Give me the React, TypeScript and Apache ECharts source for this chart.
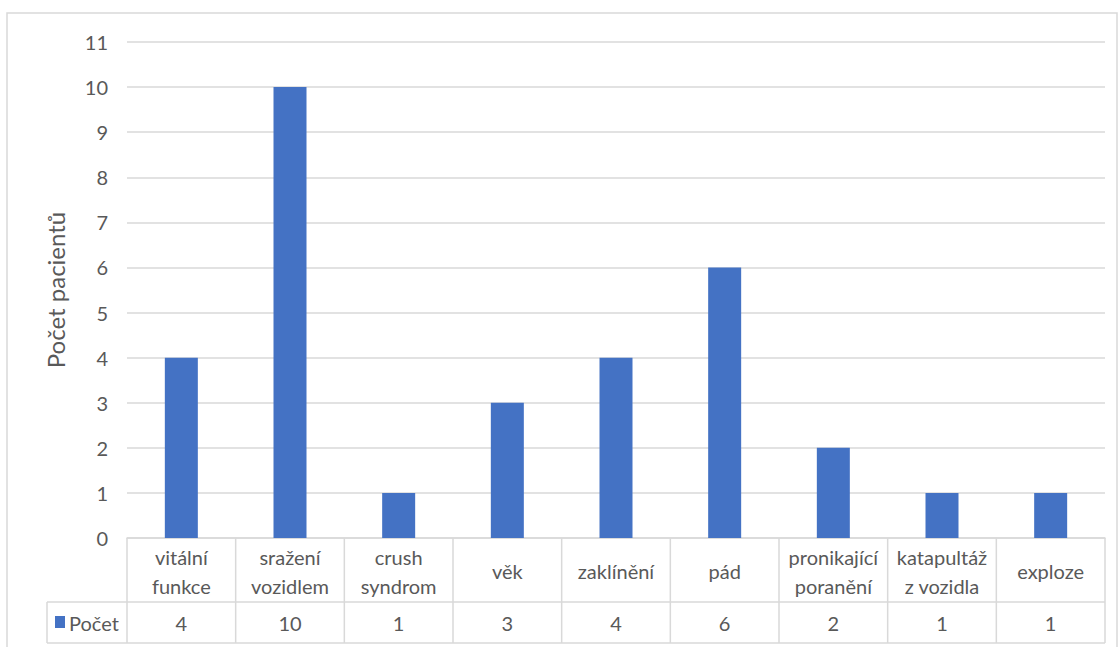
import React, { useEffect, useRef } from "react";
import * as echarts from "echarts";

// Categories (line breaks as shown in the table cells) and patient counts
const categories = [
  "vitální\nfunkce",
  "sražení\nvozidlem",
  "crush\nsyndrom",
  "věk",
  "zaklínění",
  "pád",
  "pronikající\nporanění",
  "katapultáž\nz vozidla",
  "exploze",
];
const counts = [4, 10, 1, 3, 4, 6, 2, 1, 1];
const seriesName = "Počet";
const yAxisTitle = "Počet pacientů";

const W = 1120;
const H = 647;
const GRID_LEFT = 127;
const GRID_RIGHT = 1105;
const GRID_TOP = 42;
const GRID_BOTTOM = 538;
const ROW1_BOTTOM = 602;
const ROW2_BOTTOM = 643;
const LEGEND_LEFT = 47;

const FONT = "Lato, 'Noto Sans', sans-serif";
const TEXT = "#595959";
const LINE = "#d9d9d9";
const BAR = "#4472C4";

export default function App() {
  const ref = useRef<HTMLDivElement>(null);

  useEffect(() => {
    if (!ref.current) return;
    const chart = echarts.init(ref.current, undefined, { renderer: "svg" });

    const colW = (GRID_RIGHT - GRID_LEFT) / categories.length;
    const tableLines: any[] = [];
    const hLine = (x1: number, x2: number, y: number) =>
      tableLines.push({
        type: "line",
        shape: { x1, y1: y, x2, y2: y },
        style: { stroke: LINE, lineWidth: 1.5 },
        silent: true,
      });
    const vLine = (x: number, y1: number, y2: number) =>
      tableLines.push({
        type: "line",
        shape: { x1: x, y1, x2: x, y2 },
        style: { stroke: LINE, lineWidth: 1.5 },
        silent: true,
      });
    hLine(LEGEND_LEFT, GRID_RIGHT, ROW1_BOTTOM);
    hLine(LEGEND_LEFT, GRID_RIGHT, ROW2_BOTTOM);
    for (let i = 0; i <= categories.length; i++) {
      vLine(GRID_LEFT + i * colW, GRID_BOTTOM, ROW2_BOTTOM);
    }
    vLine(LEGEND_LEFT, ROW1_BOTTOM, ROW2_BOTTOM);

    chart.setOption({
      animation: false,
      backgroundColor: "#ffffff",
      grid: {
        left: GRID_LEFT,
        right: W - GRID_RIGHT,
        top: GRID_TOP,
        bottom: H - GRID_BOTTOM,
        containLabel: false,
      },
      xAxis: [
        {
          type: "category",
          data: categories,
          position: "bottom",
          axisLine: { show: true, lineStyle: { color: LINE, width: 1.5 } },
          axisTick: { show: false },
          axisLabel: {
            interval: 0,
            margin: 33,
            color: TEXT,
            fontFamily: FONT,
            fontSize: 20,
            lineHeight: 29,
            verticalAlign: "middle",
            align: "center",
          },
        },
        {
          type: "category",
          data: categories,
          position: "bottom",
          axisLine: { show: false },
          axisTick: { show: false },
          axisLabel: {
            interval: 0,
            margin: 85,
            color: TEXT,
            fontFamily: FONT,
            fontSize: 20,
            verticalAlign: "middle",
            formatter: (_v: string, i: number) => String(counts[i]),
          },
        },
      ],
      yAxis: {
        type: "value",
        min: 0,
        max: 11,
        interval: 1,
        name: yAxisTitle,
        nameLocation: "middle",
        nameGap: 60,
        nameRotate: 90,
        nameTextStyle: {
          color: TEXT,
          fontFamily: FONT,
          fontSize: 24,
        },
        axisLine: { show: false },
        axisTick: { show: false },
        axisLabel: {
          margin: 19,
          color: TEXT,
          fontFamily: FONT,
          fontSize: 20,
        },
        splitLine: { lineStyle: { color: LINE, width: 1.5 } },
      },
      series: [
        {
          name: seriesName,
          type: "bar",
          data: counts,
          barWidth: 33,
          itemStyle: { color: BAR },
        },
      ],
      graphic: [
        {
          type: "rect",
          shape: { x: 7, y: 13, width: 1110, height: 650 },
          style: { fill: "none", stroke: LINE, lineWidth: 1.5 },
          silent: true,
        },
        ...tableLines,
        {
          type: "rect",
          shape: { x: 55, y: 616, width: 10, height: 12 },
          style: { fill: BAR },
          silent: true,
        },
        {
          type: "text",
          x: 69,
          y: 623,
          style: {
            text: seriesName,
            fill: TEXT,
            font: `20px ${FONT}`,
            verticalAlign: "middle",
          },
          silent: true,
        },
      ],
    });

    return () => chart.dispose();
  }, []);

  return (
    <div
      ref={ref}
      style={{ position: "fixed", left: 0, top: 0, width: W, height: H }}
    />
  );
}
